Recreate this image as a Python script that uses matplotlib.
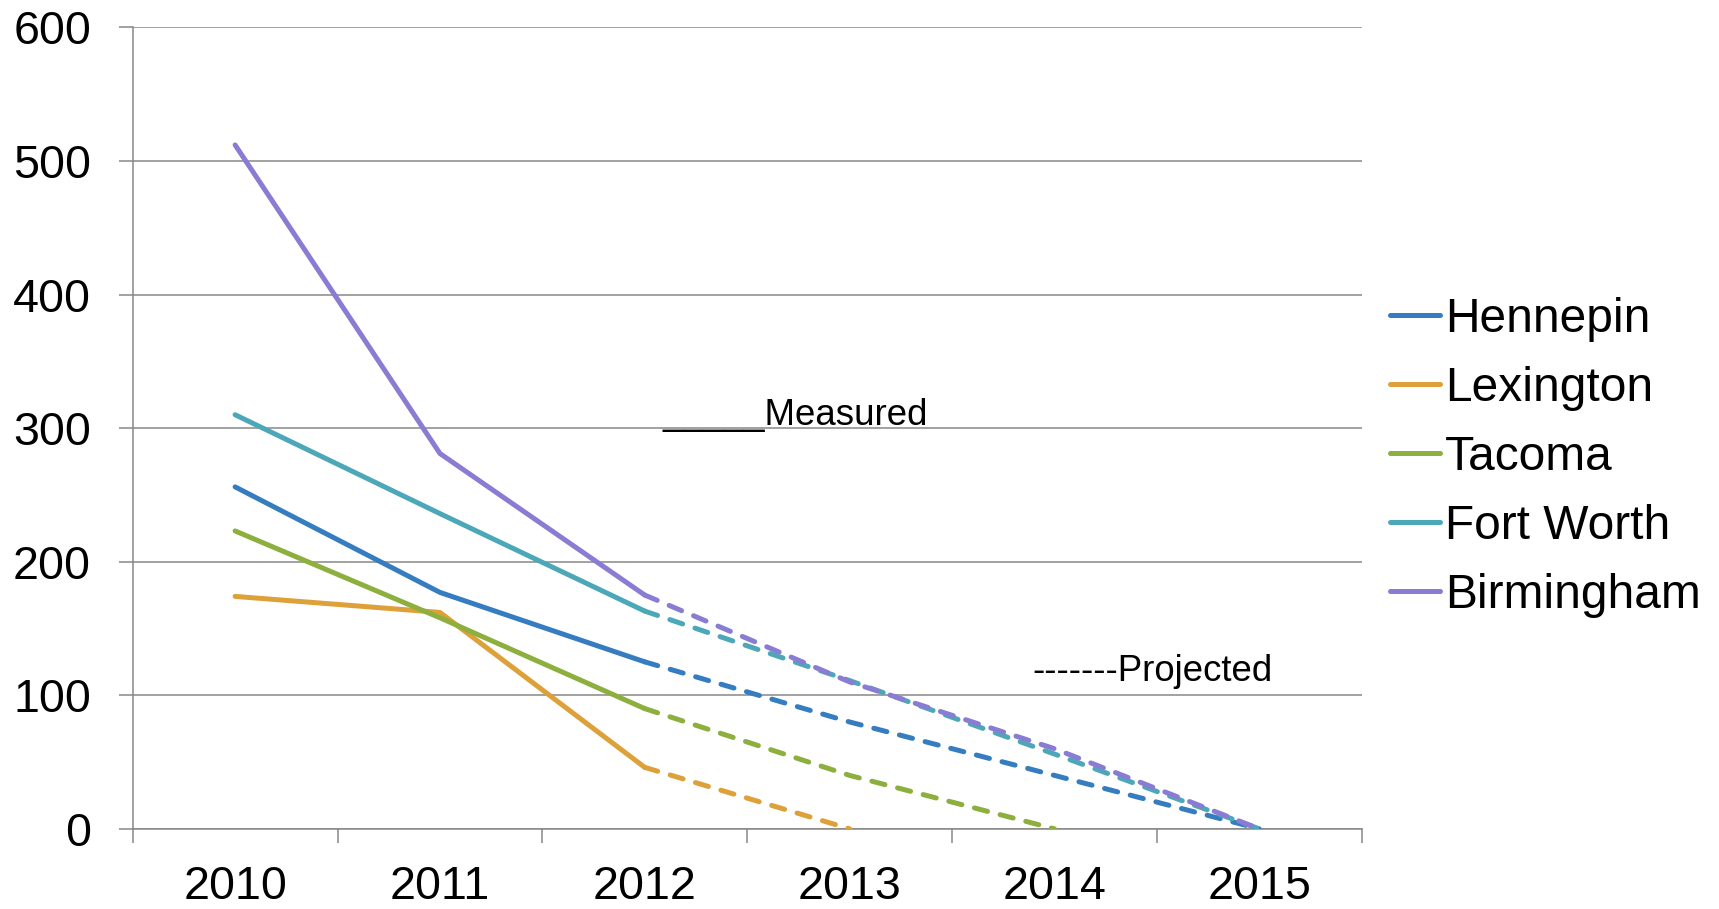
import matplotlib
matplotlib.use("Agg")
import matplotlib.pyplot as plt
import numpy as np

# Years on the category axis
years = ["2010", "2011", "2012", "2013", "2014", "2015"]

# Series values (None = no value for that year); 2010-2012 measured, later projected
hennepin = [256, 177, 125, 80, 40, 0]
lexington = [174, 162, 46, 0, None, None]
tacoma = [223, 158, 90, 40, 0, None]
fort_worth = [310, 236, 163, 111, 56, 0]
birmingham = [512, 281, 175, 110, 60, 0]

series_names = ["Hennepin", "Lexington", "Tacoma", "Fort Worth", "Birmingham"]
series_values = [hennepin, lexington, tacoma, fort_worth, birmingham]
series_colors = ["#357DC0", "#DEA038", "#8CAF3E", "#4CA8B8", "#897DD3"]

last_measured = 2  # index of 2012

y_ticks = [0, 100, 200, 300, 400, 500, 600]

plt.rcParams["font.family"] = ["Liberation Sans", "DejaVu Sans"]

W, H, DPI = 1719, 909, 100
fig = plt.figure(figsize=(W / DPI, H / DPI), dpi=DPI)
ax = fig.add_axes([132.7 / W, 1 - 828.8 / H, (1361.6 - 132.7) / W, (828.8 - 27.4) / H])

grid_color = "#878787"
lw = 3.6

x = np.arange(len(years))
handles = []
for name, vals, col in zip(series_names, series_values, series_colors):
    vals = np.array([np.nan if v is None else v for v in vals], dtype=float)
    meas_x = x[: last_measured + 1]
    meas_y = vals[: last_measured + 1]
    proj_x = x[last_measured:]
    proj_y = vals[last_measured:]
    (h,) = ax.plot(meas_x, meas_y, color=col, lw=lw, solid_capstyle="round",
                   solid_joinstyle="round", label=name, zorder=3)
    ax.plot(proj_x, proj_y, color=col, lw=lw, linestyle=(0, (2.7, 2.6)),
            dash_capstyle="round", dash_joinstyle="round", zorder=3)
    handles.append(h)

ax.set_xlim(-0.5, len(years) - 0.5)
ax.set_ylim(0, 600)

# Category labels centred between tick marks
ax.set_xticks(x)
ax.set_xticklabels(years, fontsize=33.6)
ax.set_xticks(np.arange(-0.5, len(years)), minor=True)
ax.tick_params(axis="x", which="major", length=0, pad=26)
ax.tick_params(axis="x", which="minor", length=10, width=1.1, color=grid_color,
               direction="out")

ax.set_yticks(y_ticks)
ax.set_yticklabels([str(v) for v in y_ticks], fontsize=33.6)
ax.tick_params(axis="y", length=10, width=1.1, color=grid_color, pad=20)

ax.yaxis.grid(True, color=grid_color, lw=1.1)
ax.set_axisbelow(True)
for s in ["top", "right"]:
    ax.spines[s].set_visible(False)
for s in ["left", "bottom"]:
    ax.spines[s].set_color(grid_color)
    ax.spines[s].set_linewidth(1.1)

fig.legend(handles=handles, labels=series_names, loc="center left",
           bbox_to_anchor=(1390 / W, 1 - 457.5 / H), frameon=False,
           fontsize=34.5, handlelength=1.05, handletextpad=0.1,
           labelspacing=0.5, borderpad=0, borderaxespad=0)

fig.text(662 / W, 1 - 425 / H, "_____Measured", fontsize=26.4,
         ha="left", va="baseline")
fig.text(1032 / W, 1 - 681 / H, "-------Projected", fontsize=26.4,
         ha="left", va="baseline")

fig.savefig("out.png", dpi=DPI)
